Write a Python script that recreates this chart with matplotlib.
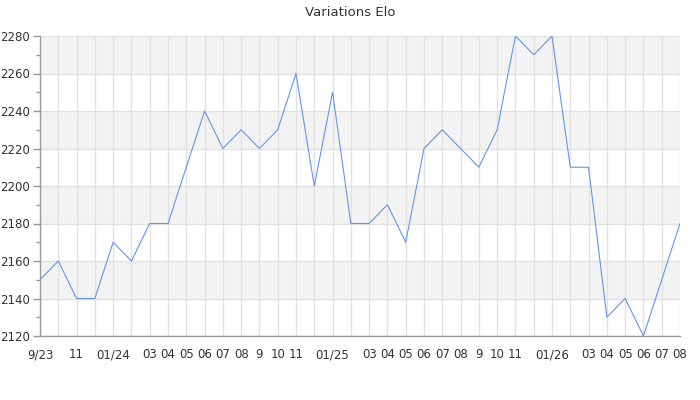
import matplotlib
matplotlib.use("Agg")
import matplotlib.pyplot as plt
from matplotlib.ticker import MultipleLocator

title = "Variations Elo"
month_labels = ['9/23', '', '11', '', '01/24', '', '03', '04', '05', '06', '07', '08',
                '9', '10', '11', '', '01/25', '', '03', '04', '05', '06', '07', '08',
                '9', '10', '11', '', '01/26', '', '03', '04', '05', '06', '07', '08']
elo = [2150, 2160, 2140, 2140, 2170, 2160, 2180, 2180, 2210, 2240, 2220, 2230,
       2220, 2230, 2260, 2200, 2250, 2180, 2180, 2190, 2170, 2220, 2230, 2220,
       2210, 2230, 2280, 2270, 2280, 2210, 2210, 2130, 2140, 2120, 2150, 2180]
y_min, y_max = 2120, 2280

fig = plt.figure(figsize=(7, 4), dpi=100)
ax = fig.add_axes([40/700, 64/400, 640/700, 300/400])

x = list(range(len(elo)))
ax.plot(x, elo, color='#6495ED', linewidth=0.8, zorder=3)

ax.set_xlim(0, len(elo) - 1)
ax.set_ylim(y_min, y_max)

# alternating bands
for lo in range(y_min + 20, y_max, 40):
    ax.axhspan(lo, lo + 20, color='#f3f3f3', zorder=0.1, linewidth=0)

ax.set_xticks(x)
ax.set_xticklabels(month_labels)
ax.yaxis.set_major_locator(MultipleLocator(20))
ax.yaxis.set_minor_locator(MultipleLocator(10))

ax.set_axisbelow(True)
ax.grid(True, which='major', color='#e2e2e2', linewidth=1.0)

for s in ['top', 'right']:
    ax.spines[s].set_visible(False)
for s in ['left', 'bottom']:
    ax.spines[s].set_color('#999999')
    ax.spines[s].set_linewidth(1.0)

ax.tick_params(axis='x', length=0, pad=9, labelsize=8.5, labelcolor='#333333')
ax.tick_params(axis='y', which='major', length=5, width=1, color='#999999',
               labelsize=8.5, labelcolor='#333333', pad=2)
ax.tick_params(axis='y', which='minor', length=3, width=1, color='#999999')

fig.suptitle(title, x=0.5, y=1 - 12/400, va='center', fontsize=9.5, color='#333333')

fig.savefig('out.png', dpi=100)
